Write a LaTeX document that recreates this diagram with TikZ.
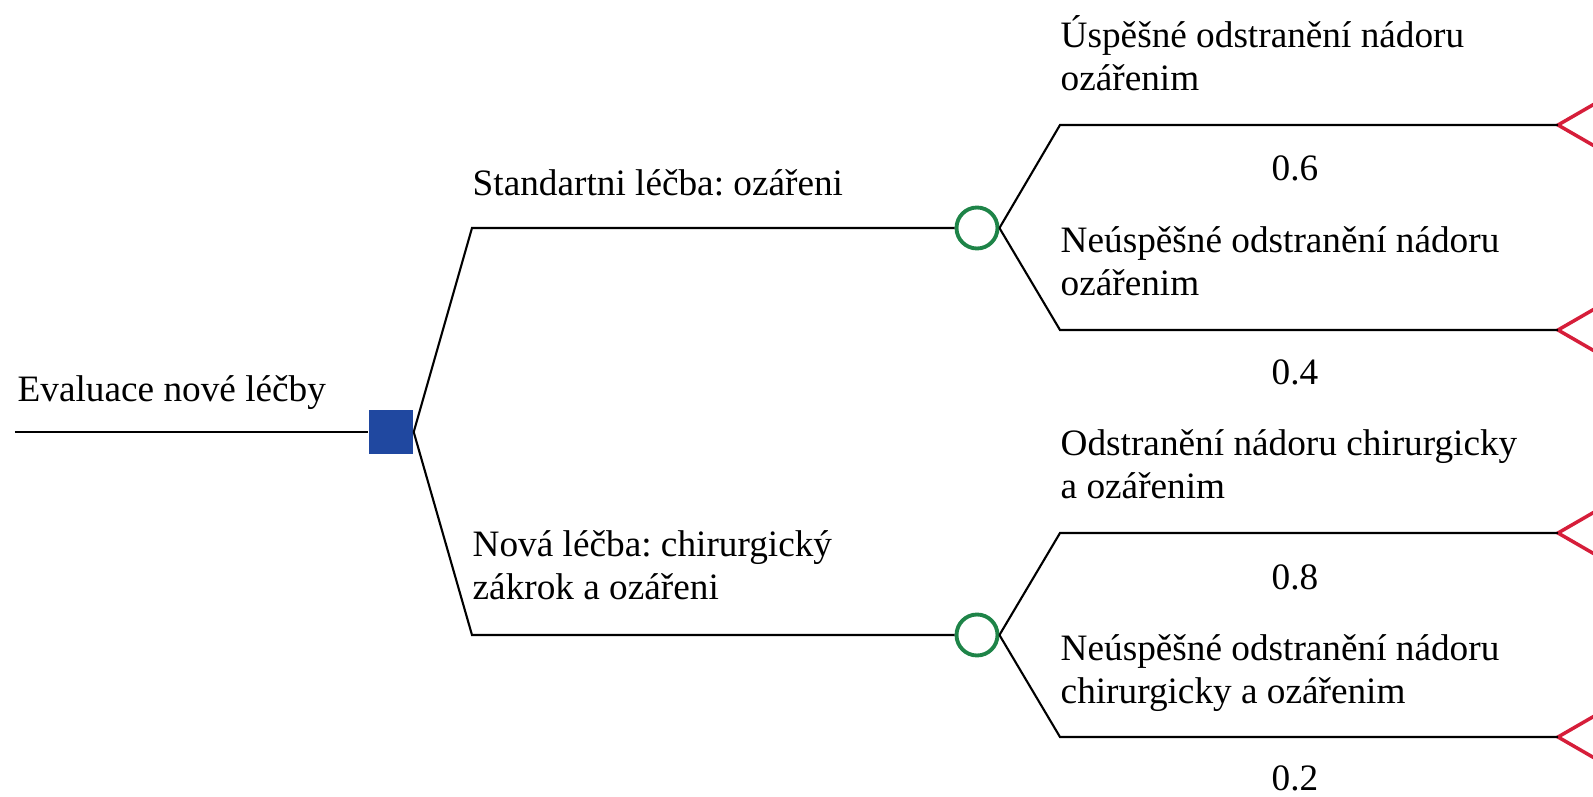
\documentclass[tikz,border=0pt]{standalone}
\usepackage{fontspec}
\setmainfont{Liberation Serif}
\frenchspacing

\definecolor{decblue}{RGB}{32,72,160}
\definecolor{chgreen}{RGB}{30,132,72}
\definecolor{endred}{RGB}{214,30,58}

\tikzset{
  decnode/.style={rectangle, fill=decblue, minimum size=0.44cm, inner sep=0pt},
  chnode/.style={circle, draw=chgreen, line width=1.1pt, fill=white, minimum size=0.41cm, inner sep=0pt},
  endtri/.style={draw=endred, line width=1pt, line join=miter},
  branch/.style={line width=0.6pt},
  lbl/.style={anchor=base west, align=left, inner sep=0pt},
  prob/.style={anchor=base, inner sep=0pt}
}

\begin{document}
\begin{tikzpicture}[x=1cm, y=1cm, font=\fontsize{10.6}{12.2}\selectfont]
    \clip (0,0) rectangle (15.93,7.96);
    % decision and chance points
    \coordinate (start) at (0.15,3.64);
    \node[decnode] (dec) at (3.91,3.64) {};
    \coordinate (b1) at (4.72,5.68);
    \coordinate (b2) at (4.72,1.61);
    \node[chnode] (ch1) at (9.77,5.68) {};
    \node[chnode] (ch2) at (9.77,1.61) {};
    \coordinate (c1) at (10.60,6.71);
    \coordinate (c2) at (10.60,4.66);
    \coordinate (c3) at (10.60,2.63);
    \coordinate (c4) at (10.60,0.59);
    % end points
    \foreach \y [count=\i] in {6.71,4.66,2.63,0.59} {
        \coordinate (t\i) at (15.58,\y);
        \draw[endtri] (t\i) -- ++(30:0.8) -- ++(0,-0.8) -- cycle;
    }
    % branches
    \draw[branch] (start) -- (dec.west);
    \draw[branch] (dec.east) -- (b1) -- (ch1);
    \draw[branch] (dec.east) -- (b2) -- (ch2);
    \draw[branch] (ch1.east) -- (c1) -- (t1);
    \draw[branch] (ch1.east) -- (c2) -- (t2);
    \draw[branch] (ch2.east) -- (c3) -- (t3);
    \draw[branch] (ch2.east) -- (c4) -- (t4);
    % labels (base = last line)
    \node[lbl] (lroot) at (0.17,3.95) {Evaluace nové léčby};
    \node[lbl] (lstd) at (4.72,6.01) {Standartni léčba: ozářeni};
    \node[lbl] (lnew) at (4.72,1.97) {Nová léčba: chirurgický\\zákrok a ozářeni};
    \node[lbl] (lo1) at (10.60,7.06) {Úspěšné odstranění nádoru\\ozářenim};
    \node[lbl] (lo2) at (10.60,5.01) {Neúspěšné odstranění nádoru\\ozářenim};
    \node[lbl] (lo3) at (10.60,2.98) {Odstranění nádoru chirurgicky\\a ozářenim};
    \node[lbl] (lo4) at (10.60,0.93) {Neúspěšné odstranění nádoru\\chirurgicky a ozářenim};
    \node[prob] (p1) at (12.95,6.15) {0.6};
    \node[prob] (p2) at (12.95,4.12) {0.4};
    \node[prob] (p3) at (12.95,2.07) {0.8};
    \node[prob] (p4) at (12.95,0.06) {0.2};
\end{tikzpicture}
\end{document}
